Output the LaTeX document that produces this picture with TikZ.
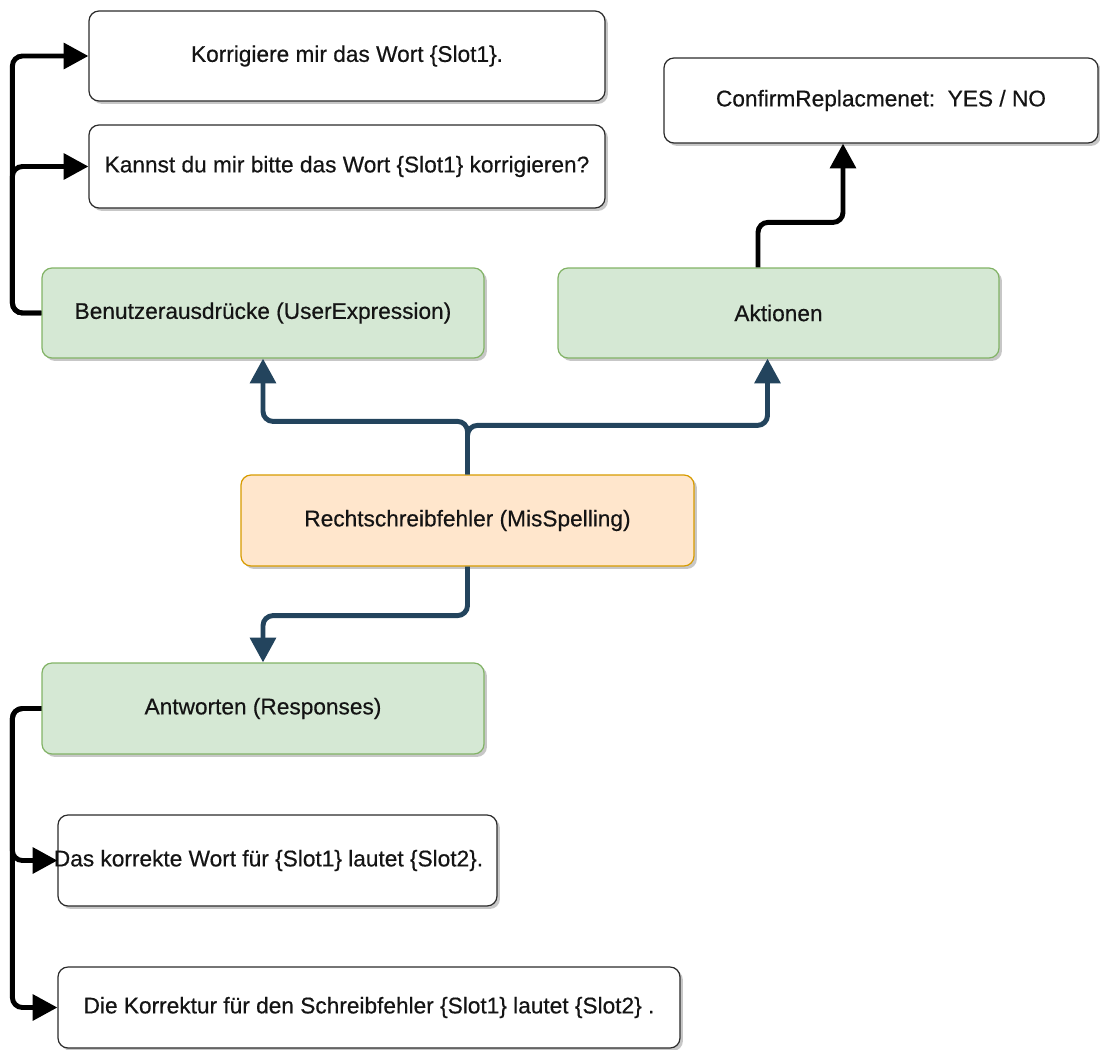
\documentclass[tikz,border=0pt]{standalone}
\usepackage{fontspec}
\setmainfont[FakeBold=0.5]{Liberation Sans}
\usetikzlibrary{arrows.meta,calc,shadows}
\definecolor{greenfill}{HTML}{D5E8D4}
\definecolor{greenline}{HTML}{82B366}
\definecolor{orangefill}{HTML}{FFE6CC}
\definecolor{orangeline}{HTML}{D79B00}
\definecolor{navy}{HTML}{23445D}
\definecolor{boxline}{HTML}{2B2B2B}
\definecolor{ink}{HTML}{141414}

\begin{document}
\begin{tikzpicture}[x=0.75pt,y=-0.75pt,
  font=\fontsize{17}{20}\selectfont, text=ink,
  card/.style={rounded corners=7.5pt, line width=0.9pt, inner sep=0pt,
    drop shadow={shadow xshift=2.2pt, shadow yshift=-2.2pt, fill=black, opacity=0.22}},
  plain/.style={card, draw=boxline, fill=white},
  greenbox/.style={card, draw=greenline, fill=greenfill},
  orangebox/.style={card, draw=orangeline, fill=orangefill},
  blk/.style={draw=black, line width=3.7pt, rounded corners=7.5pt,
    -{Triangle[length=18.5pt,width=19pt]}},
  blu/.style={draw=navy, line width=3.7pt, rounded corners=7.5pt,
    -{Triangle[length=18.5pt,width=19pt]}}
]
\useasboundingbox (0,0) rectangle (1100,1050);

% utterance examples
\node[plain, minimum width=387pt, minimum height=67.5pt] (k1) at (347,56)
  {Korrigiere mir das Wort \{Slot1\}.};
\node[plain, minimum width=387pt, minimum height=62.25pt] (k2) at (347,166.5)
  {Kannst du mir bitte das Wort \{Slot1\} korrigieren?};

% intent categories
\node[greenbox, minimum width=331.5pt, minimum height=67.5pt] (user) at (263,313)
  {Benutzerausdrücke (UserExpression)};
\node[greenbox, minimum width=330.75pt, minimum height=67.5pt] (akt) at (778.5,313)
  {Aktionen};
\node[plain, minimum width=325.5pt, minimum height=63.75pt] (conf) at (881,100.5)
  {ConfirmReplacmenet:\ \ YES / NO};

% intent
\node[orangebox, minimum width=339.75pt, minimum height=68.25pt] (miss) at (467.5,520.5)
  {Rechtschreibfehler (MisSpelling)};

% responses
\node[greenbox, minimum width=331.5pt, minimum height=68.25pt] (ant) at (263,708.5)
  {Antworten (Responses)};
\node[plain, minimum width=329.25pt, minimum height=68.25pt] (das) at (277.5,860.5)
  {\hspace*{-13.5pt}Das korrekte Wort für \{Slot1\} lautet \{Slot2\}.};
\node[plain, minimum width=466.5pt, minimum height=60.75pt] (kor) at (369,1007.5)
  {Die Korrektur für den Schreibfehler \{Slot1\} lautet \{Slot2\} .};

% connectors
\draw[blk] (user.west) -- ++(-29,0) |- (k1.west);
\draw[blk] (user.west) -- ++(-29,0) |- (k2.west);
\draw[blk] ($(akt.north)+(-20.5,0)$) -- ++(0,-45) -| ($(conf.south)+(-38,0)$);

\draw[blu] (miss.north) -- ++(0,-53) -| (user.south);
\draw[blu] (miss.north) -- ++(0,-49) -| ($(akt.south)+(-11,0)$);
\draw[blu] (miss.south) -- ++(0,49) -| (ant.north);

\draw[blk] (ant.west) -- ++(-29,0) |- (das.west);
\draw[blk] (ant.west) -- ++(-29,0) |- (kor.west);
\end{tikzpicture}
\end{document}
